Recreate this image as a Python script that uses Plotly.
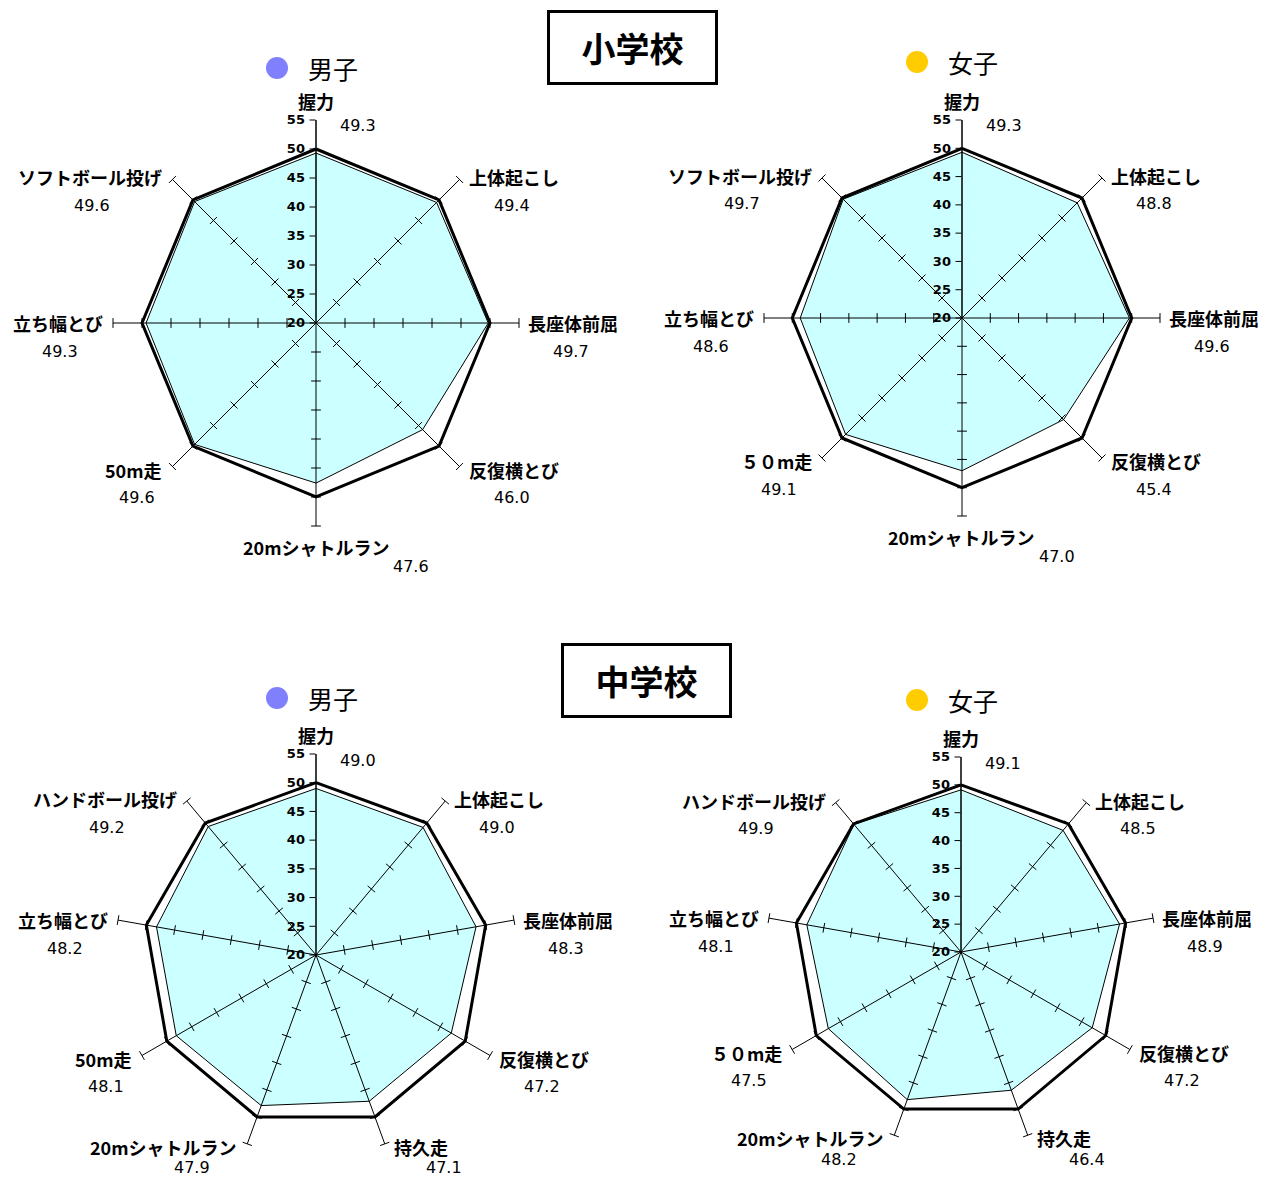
import math
import plotly.graph_objects as go

W, H = 1268, 1182

# data
es_items_boys = ["握力", "上体起こし", "長座体前屈", "反復横とび", "20mシャトルラン", "50m走", "立ち幅とび", "ソフトボール投げ"]
es_items_girls = ["握力", "上体起こし", "長座体前屈", "反復横とび", "20mシャトルラン", "５０m走", "立ち幅とび", "ソフトボール投げ"]
es_boys = [49.3, 49.4, 49.7, 46.0, 47.6, 49.6, 49.3, 49.6]
es_girls = [49.3, 48.8, 49.6, 45.4, 47.0, 49.1, 48.6, 49.7]

jh_items_boys = ["握力", "上体起こし", "長座体前屈", "反復横とび", "持久走", "20mシャトルラン", "50m走", "立ち幅とび", "ハンドボール投げ"]
jh_items_girls = ["握力", "上体起こし", "長座体前屈", "反復横とび", "持久走", "20mシャトルラン", "５０m走", "立ち幅とび", "ハンドボール投げ"]
jh_boys = [49.0, 49.0, 48.3, 47.2, 47.1, 47.9, 48.1, 48.2, 49.2]
jh_girls = [49.1, 48.5, 48.9, 47.2, 46.4, 48.2, 47.5, 48.1, 49.9]

national = 50
tick_vals = [20, 25, 30, 35, 40, 45, 50, 55]

# panel layout: centre (px) and radius at 55
panels = [
    dict(items=es_items_boys, vals=es_boys, cx=316, cy=323, R=203),
    dict(items=es_items_girls, vals=es_girls, cx=962, cy=318, R=198),
    dict(items=jh_items_boys, vals=jh_boys, cx=316, cy=955, R=201),
    dict(items=jh_items_girls, vals=jh_girls, cx=961, cy=952, R=195),
]

JP = "Noto Sans CJK JP"
NUM = "DejaVu Sans"
LBL_SIZE = 18


def text_w(s, size):
    return sum((1.0 if ord(ch) > 255 else (0.85 if ch == "m" else 0.6)) for ch in s) * size


def px(x, y):
    return x / W, 1 - y / H


fig = go.Figure()
annotations = []

for k, p in enumerate(panels):
    pid = "polar" if k == 0 else f"polar{k + 1}"
    items, vals = p["items"], p["vals"]
    n = len(items)
    cx, cy, R = p["cx"], p["cy"], p["R"]

    # filled polygon
    fig.add_trace(go.Scatterpolar(
        r=vals + [vals[0]], theta=items + [items[0]], subplot=pid,
        mode="lines", fill="toself", fillcolor="#CCFFFF",
        line=dict(color="black", width=1), hoverinfo="skip"))

    # spokes drawn above the fill
    sr, st = [], []
    for it in items:
        sr += [tick_vals[0], tick_vals[-1], None]
        st += [it, it, None]
    fig.add_trace(go.Scatterpolar(
        r=sr, theta=st, subplot=pid, mode="lines",
        line=dict(color="black", width=1), connectgaps=False, hoverinfo="skip"))

    # tick marks on every spoke except the top one (radial axis has its own)
    tr, tt, ta = [], [], []
    for i, it in enumerate(items[1:], start=1):
        ang = 90 - i * 360 / n
        for t in tick_vals[1:]:
            tr.append(t)
            tt.append(it)
            ta.append(-ang)
    fig.add_trace(go.Scatterpolar(
        r=tr, theta=tt, subplot=pid, mode="markers",
        marker=dict(symbol="line-ns", size=7, angle=ta,
                    line=dict(color="black", width=1)), hoverinfo="skip"))

    # national average reference (50)
    fig.add_trace(go.Scatterpolar(
        r=[national] * (n + 1), theta=items + [items[0]], subplot=pid,
        mode="lines", line=dict(color="black", width=3), hoverinfo="skip"))

    fig.update_layout(**{pid: dict(
        domain=dict(x=[(cx - R) / W, (cx + R) / W],
                    y=[1 - (cy + R) / H, 1 - (cy - R) / H]),
        bgcolor="rgba(0,0,0,0)",
        radialaxis=dict(range=[20, 55], tickvals=tick_vals, showgrid=False,
                        showline=True, linecolor="black", linewidth=1,
                        ticks="outside", ticklen=6, tickcolor="black",
                        angle=90, side="counterclockwise", tickangle=90,
                        tickfont=dict(family=NUM, size=13, color="black", weight="bold"),
                        layer="above traces"),
        angularaxis=dict(rotation=90, direction="clockwise", showgrid=False,
                         showline=False, showticklabels=False, ticks="",
                         categoryarray=items, type="category"),
    )})

    # category + value labels
    for i, (name, v) in enumerate(zip(items, vals)):
        ang = math.radians(90 - i * 360 / n)
        c, s = math.cos(ang), math.sin(ang)
        ex, ey = cx + R * c, cy - R * s
        w = text_w(name, LBL_SIZE)
        if abs(c) < 0.01 and s > 0:
            lx, ly, la = cx, ey - 19, "center"
            vx, vy, va = cx + 22, ey + 6, "left"
        elif abs(c) < 0.01:
            lx, ly, la = cx, ey + 21, "center"
            vx, vy, va = cx + 95, ey + 40, "center"
        else:
            if c > 0:
                lx, la = ex + 7, "left"
                mid = lx + w / 2
            else:
                lx, la = ex - 8, "right"
                mid = lx - w / 2
            ly = ey + (-2 if s > 0.3 else (3 if s < -0.3 else 0))
            vx = mid + (25 if s < -0.9 else 0)
            vy, va = ly + (21 if s < -0.9 else 28), "center"
        x, y = px(lx, ly)
        annotations.append(dict(x=x, y=y, xref="paper", yref="paper", text=name,
                                showarrow=False, xanchor=la, yanchor="middle",
                                font=dict(family=JP, size=LBL_SIZE, color="black", weight="bold")))
        x, y = px(vx, vy)
        annotations.append(dict(x=x, y=y, xref="paper", yref="paper", text=f"{v:.1f}",
                                showarrow=False, xanchor=va, yanchor="middle",
                                font=dict(family=NUM, size=16, color="black")))

# section titles
for txt, tx, ty in [("小学校", 632, 47), ("中学校", 646, 680)]:
    x, y = px(tx, ty)
    annotations.append(dict(x=x, y=y, xref="paper", yref="paper", text=txt, showarrow=False,
                            xanchor="center", yanchor="middle", width=163, height=67,
                            bordercolor="black", borderwidth=3, bgcolor="white",
                            font=dict(family=JP, size=34, color="black", weight="bold")))

# gender markers
shapes = []
for txt, col, mx, my in [("男子", "#8080FF", 277, 68), ("女子", "#FFCC00", 917, 62),
                         ("男子", "#8080FF", 277, 698), ("女子", "#FFCC00", 917, 700)]:
    x, y = px(mx, my)
    shapes.append(dict(type="circle", xref="paper", yref="paper", xsizemode="pixel",
                       ysizemode="pixel", xanchor=x, yanchor=y, x0=-11, x1=11, y0=-11, y1=11,
                       fillcolor=col, line=dict(width=0)))
    x, y = px(mx + 29, my)
    annotations.append(dict(x=x, y=y, xref="paper", yref="paper", text=txt, showarrow=False,
                            xanchor="left", yanchor="middle",
                            font=dict(family=JP, size=25, color="black")))

fig.update_layout(width=W, height=H, margin=dict(l=0, r=0, t=0, b=0),
                  paper_bgcolor="white", plot_bgcolor="white", showlegend=False,
                  annotations=annotations, shapes=shapes)

fig.write_html("out.html", config={"displayModeBar": False},
               post_script="document.body.style.margin='0';")
